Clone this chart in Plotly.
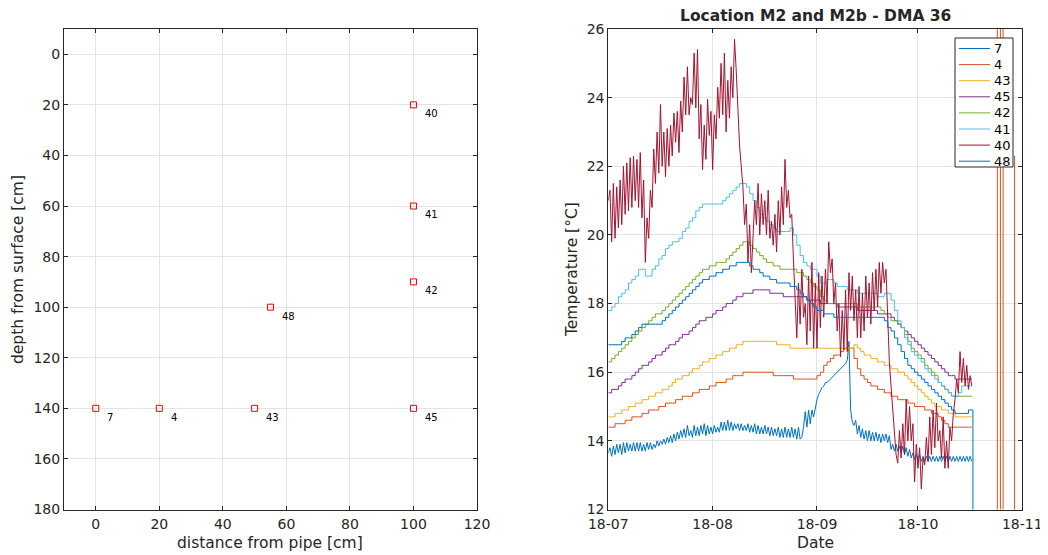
import pandas as pd
import plotly.graph_objects as go

# ---------------- left panel: sensor positions ----------------
sensor_labels = ["7", "4", "43", "45", "42", "41", "40", "48"]
sensor_x = [0, 20, 50, 100, 100, 100, 100, 55]
sensor_depth = [140, 140, 140, 140, 90, 60, 20, 100]

# ---------------- right panel: temperature series ----------------
series_names = ["7", "4", "43", "45", "42", "41", "40", "48"]
series_colors = ["#0072BD", "#D95319", "#EDB120", "#7E2F8E", "#77AC30", "#4DBEEE", "#A2142F", "#0072BD"]

# daily values (2018-07-01 .. 2018-10-17)
temp_41 = [17.8, 17.9, 18.0, 18.2, 18.3, 18.4, 18.6, 18.7, 18.8, 19.0,
           19.0, 18.8, 18.8, 19.0, 19.1, 19.3, 19.4, 19.6, 19.7, 19.8,
           19.8, 19.9, 20.1, 20.2, 20.4, 20.5, 20.7, 20.8, 20.9, 20.9,
           20.9, 20.9, 20.9, 20.9, 21.0, 21.1, 21.2, 21.3, 21.4, 21.5,
           21.5, 21.4, 21.2, 21.0, 20.8, 20.6, 20.5, 20.4, 20.3, 20.2,
           20.1, 20.1, 20.1, 20.1, 20.2, 20.0, 19.7, 19.4, 19.2, 19.1,
           19.0, 19.0, 18.8, 18.6, 18.6, 18.7, 18.7, 18.6, 18.5, 18.5,
           18.5, 18.4, 18.4, 18.4, 18.3, 18.3, 18.3, 18.3, 18.3, 18.3,
           18.2, 18.2, 18.3, 18.3, 18.1, 17.8, 17.5, 17.3, 17.0, 16.8,
           16.6, 16.5, 16.4, 16.3, 16.1, 16.0, 15.9, 15.8, 15.7, 15.6,
           15.5, 15.4, 15.3, 15.3, 15.4, 15.6, 15.6, 15.6, 15.6]
temp_42 = [16.3, 16.4, 16.5, 16.6, 16.7, 16.8, 16.9, 17.0, 17.1, 17.2,
           17.3, 17.4, 17.5, 17.6, 17.7, 17.7, 17.8, 17.9, 18.0, 18.1,
           18.2, 18.3, 18.4, 18.5, 18.6, 18.7, 18.8, 18.9, 19.0, 19.0,
           19.1, 19.1, 19.2, 19.2, 19.2, 19.3, 19.4, 19.5, 19.6, 19.7,
           19.8, 19.8, 19.7, 19.6, 19.5, 19.4, 19.3, 19.2, 19.2, 19.1,
           19.1, 19.0, 19.0, 19.0, 19.0, 19.0, 18.9, 18.9, 18.8, 18.7,
           18.6, 18.5, 18.4, 18.2, 18.1, 18.0, 18.0, 18.0, 18.0, 18.0,
           18.0, 18.0, 18.0, 18.0, 17.9, 17.9, 17.9, 17.9, 17.9, 17.9,
           17.9, 17.8, 17.7, 17.6, 17.5, 17.5, 17.4, 17.3, 17.1, 16.9,
           16.7, 16.6, 16.5, 16.4, 16.2, 16.1, 16.0, 15.9, 15.7, 15.6,
           15.5, 15.4, 15.3, 15.3, 15.3, 15.3, 15.3, 15.3, 15.3]
temp_48 = [16.8, 16.8, 16.8, 16.8, 16.9, 17.0, 17.0, 17.1, 17.2, 17.3,
           17.4, 17.4, 17.4, 17.4, 17.4, 17.4, 17.5, 17.6, 17.7, 17.8,
           17.9, 18.0, 18.1, 18.2, 18.3, 18.4, 18.5, 18.6, 18.7, 18.7,
           18.8, 18.8, 18.9, 18.9, 19.0, 19.0, 19.1, 19.1, 19.2, 19.2,
           19.2, 19.2, 19.1, 19.0, 19.0, 18.9, 18.8, 18.8, 18.7, 18.7,
           18.6, 18.6, 18.6, 18.6, 18.5, 18.5, 18.4, 18.3, 18.2, 18.1,
           18.0, 17.9, 17.8, 17.8, 17.7, 17.7, 17.7, 17.6, 17.6, 17.6,
           17.6, 17.6, 17.6, 17.6, 17.6, 17.6, 17.6, 17.6, 17.6, 17.6,
           17.6, 17.6, 17.5, 17.3, 17.2, 17.0, 16.8, 16.6, 16.4, 16.2,
           16.1, 16.0, 15.9, 15.8, 15.7, 15.6, 15.5, 15.4, 15.3, 15.2,
           15.1, 15.0, 14.9, 14.8, 14.8, 14.8, 14.8, 14.9, 14.9]
temp_48_end = [5.0]
temp_45 = [15.4, 15.5, 15.5, 15.6, 15.7, 15.8, 15.8, 15.9, 16.0, 16.1,
           16.2, 16.2, 16.3, 16.4, 16.5, 16.5, 16.6, 16.7, 16.8, 16.8,
           16.9, 17.0, 17.1, 17.1, 17.2, 17.3, 17.4, 17.5, 17.5, 17.6,
           17.6, 17.7, 17.8, 17.8, 17.9, 18.0, 18.0, 18.1, 18.2, 18.2,
           18.3, 18.3, 18.3, 18.4, 18.4, 18.4, 18.4, 18.4, 18.3, 18.3,
           18.3, 18.3, 18.2, 18.2, 18.2, 18.2, 18.2, 18.2, 18.2, 18.1,
           18.1, 18.1, 18.1, 18.0, 18.0, 18.0, 18.0, 18.0, 17.9, 17.9,
           17.9, 17.9, 17.9, 17.9, 17.8, 17.8, 17.8, 17.8, 17.8, 17.8,
           17.7, 17.7, 17.7, 17.7, 17.6, 17.5, 17.4, 17.3, 17.2, 17.1,
           17.0, 16.9, 16.8, 16.7, 16.6, 16.5, 16.4, 16.3, 16.2, 16.1,
           16.0, 15.9, 15.9, 15.8, 15.8, 15.8, 15.8, 15.8, 15.8]
temp_43 = [14.7, 14.7, 14.8, 14.8, 14.9, 14.9, 15.0, 15.0, 15.1, 15.1,
           15.2, 15.2, 15.3, 15.3, 15.4, 15.4, 15.5, 15.5, 15.6, 15.7,
           15.8, 15.8, 15.9, 15.9, 16.0, 16.1, 16.1, 16.2, 16.3, 16.3,
           16.4, 16.4, 16.5, 16.5, 16.6, 16.6, 16.7, 16.7, 16.8, 16.8,
           16.9, 16.9, 16.9, 16.9, 16.9, 16.9, 16.9, 16.9, 16.9, 16.9,
           16.8, 16.8, 16.8, 16.8, 16.7, 16.7, 16.7, 16.7, 16.7, 16.7,
           16.7, 16.7, 16.7, 16.7, 16.7, 16.7, 16.7, 16.7, 16.7, 16.7,
           16.7, 16.7, 16.7, 16.8, 16.7, 16.6, 16.5, 16.5, 16.4, 16.4,
           16.3, 16.3, 16.2, 16.2, 16.1, 16.1, 16.0, 16.0, 15.9, 15.8,
           15.7, 15.6, 15.5, 15.4, 15.3, 15.2, 15.1, 15.0, 15.0, 14.9,
           14.9, 14.8, 14.8, 14.7, 14.7, 14.7, 14.7, 14.7, 14.7]
temp_4 = [14.4, 14.4, 14.5, 14.5, 14.5, 14.6, 14.6, 14.7, 14.7, 14.7,
          14.8, 14.8, 14.9, 14.9, 14.9, 15.0, 15.0, 15.1, 15.1, 15.1,
          15.2, 15.2, 15.3, 15.3, 15.3, 15.4, 15.4, 15.5, 15.5, 15.5,
          15.6, 15.6, 15.7, 15.7, 15.7, 15.8, 15.8, 15.9, 15.9, 15.9,
          16.0, 16.0, 16.0, 16.0, 16.0, 16.0, 16.0, 16.0, 16.0, 15.9,
          15.9, 15.9, 15.9, 15.9, 15.9, 15.8, 15.8, 15.8, 15.8, 15.8,
          15.8, 15.8, 15.9, 16.0, 16.2, 16.3, 16.4, 16.5, 16.5, 16.6,
          16.7, 16.7, 16.7, 16.4, 16.1, 15.9, 15.8, 15.7, 15.6, 15.6,
          15.5, 15.5, 15.4, 15.4, 15.3, 15.3, 15.2, 15.2, 15.2, 15.1,
          15.1, 15.0, 15.0, 15.0, 14.9, 14.9, 14.8, 14.8, 14.7, 14.6,
          14.5, 14.4, 14.4, 14.4, 14.4, 14.4, 14.4, 14.4, 14.4]
# late spikes of sensor 4 (after the data gap)
spike_times_4 = ["2018-10-20 00:00", "2018-10-24 13:00", "2018-10-24 14:00", "2018-10-25 12:00",
                 "2018-10-26 07:00", "2018-10-27 00:00", "2018-10-29 16:00", "2018-10-29 17:00"]
spike_values_4 = [None, 5.0, 40.0, 5.0, 40.0, None, 22.3, 5.0]

# half-day values (trough / peak alternating) 2018-07-01 00:00 .. 2018-10-17 00:00
temp_7 = [13.65, 13.8, 13.55, 13.85, 13.6, 13.9, 13.65, 13.9, 13.6, 13.95,
          13.65, 13.95, 13.7, 13.9, 13.7, 13.95, 13.7, 13.95, 13.7, 13.95,
          13.7, 13.9, 13.7, 13.95, 13.75, 13.95, 13.75, 13.9, 13.8, 14.0,
          13.85, 14.0, 13.9, 14.05, 13.9, 14.1, 13.95, 14.15, 13.95, 14.2,
          14.0, 14.25, 14.05, 14.3, 14.1, 14.35, 14.1, 14.45, 14.15, 14.3,
          14.1, 14.45, 14.15, 14.4, 14.15, 14.45, 14.2, 14.5, 14.15, 14.45,
          14.2, 14.4, 14.2, 14.45, 14.25, 14.4, 14.25, 14.55, 14.3, 14.55,
          14.3, 14.6, 14.3, 14.55, 14.3, 14.5, 14.35, 14.5, 14.3, 14.5,
          14.3, 14.45, 14.3, 14.5, 14.25, 14.45, 14.25, 14.5, 14.2, 14.45,
          14.2, 14.4, 14.2, 14.45, 14.2, 14.4, 14.15, 14.4, 14.15, 14.35,
          14.15, 14.4, 14.1, 14.35, 14.1, 14.4, 14.1, 14.35, 14.1, 14.4,
          14.1, 14.35, 14.05, 14.4, 14.05, 14.1, 14.4, 14.85, 14.4, 14.9,
          14.5, 14.9, 14.7, 15.0, 15.2, 15.35, 15.45, 15.55, 15.6, 15.7,
          15.7, 15.75, 15.8, 15.85, 15.9, 15.95, 16.0, 16.05, 16.1, 16.15,
          16.2, 16.25, 16.35, 16.9, 14.9, 14.55, 14.45, 14.6, 14.2, 14.45,
          14.1, 14.35, 14.05, 14.3, 14.0, 14.3, 14.0, 14.25, 14.0, 14.25,
          14.0, 14.2, 13.95, 14.2, 14.0, 14.2, 13.95, 14.15, 13.75, 13.9,
          13.7, 13.9, 13.7, 13.85, 13.65, 13.85, 13.6, 13.8, 13.55, 13.75,
          13.5, 13.65, 13.45, 13.6, 13.45, 13.6, 13.4, 13.55, 13.4, 13.55,
          13.4, 13.55, 13.4, 13.55, 13.4, 13.55, 13.4, 13.55, 13.4, 13.55,
          13.4, 13.55, 13.4, 13.55, 13.4, 13.55, 13.4, 13.55, 13.4, 13.55,
          13.4, 13.55, 13.4, 13.55, 13.4, 13.55, 13.4]
temp_40 = [21.0, 21.3, 19.8, 21.5, 19.9, 21.4, 20.2, 21.6, 20.3, 22.0,
           20.6, 22.1, 20.7, 22.25, 20.8, 22.3, 21.0, 22.2, 20.8, 22.4,
           20.5, 21.6, 19.2, 20.5, 19.9, 21.3, 20.8, 22.5, 21.5, 23.0,
           21.8, 23.8, 22.0, 23.0, 21.7, 23.1, 22.0, 23.2, 22.3, 23.55,
           22.7, 23.6, 22.4, 23.9, 23.0, 24.6, 23.5, 24.9, 23.5, 24.0,
           23.8, 25.3, 23.7, 25.4, 22.8, 23.8, 21.9, 23.2, 22.2, 23.95,
           22.9, 23.6, 21.9, 23.5, 22.8, 24.3, 23.4, 25.0, 23.5, 25.3,
           23.0, 24.5, 23.4, 24.9, 24.0, 25.7, 24.8, 23.6, 22.6, 22.0,
           21.4, 20.3, 20.9, 19.2, 20.3, 18.9, 20.0, 21.0, 20.3, 21.5,
           20.0, 21.2, 20.3, 21.0, 20.0, 21.3, 19.9, 20.4, 19.7, 20.6,
           19.5, 21.0, 20.0, 21.4, 20.3, 22.2, 20.8, 21.3, 20.5, 20.6,
           19.3, 18.0, 17.0, 18.6, 17.4, 19.0, 17.6, 18.0, 16.8, 18.8,
           17.2, 19.2, 16.7, 18.6, 16.7, 18.9, 17.3, 18.8, 17.6, 19.0,
           18.0, 19.8, 18.9, 19.3, 18.0, 18.6, 17.2, 18.0, 16.45, 17.8,
           16.65, 18.4, 16.6, 18.9, 17.8, 18.8, 17.5, 18.4, 17.0, 18.5,
           17.0, 18.3, 17.2, 18.8, 17.6, 18.6, 17.4, 18.9, 17.8, 19.0,
           17.9, 19.2, 18.3, 19.2, 18.6, 19.0, 17.6, 16.3, 15.6, 15.0,
           14.3, 13.6, 13.35, 14.3, 13.5, 14.5, 13.6, 15.2, 14.0, 15.0,
           14.0, 14.5, 12.8, 13.9, 13.2, 13.8, 12.6, 13.5, 13.3, 14.1,
           13.4, 14.7, 13.6, 14.9, 13.8, 15.1, 14.0, 14.3, 13.5, 14.7,
           13.2, 14.0, 13.2, 14.4, 14.0, 14.8, 15.2, 15.8, 15.4, 16.6,
           15.7, 16.4, 15.6, 16.2, 15.5, 15.9, 15.6]

days = list(pd.date_range("2018-07-01", periods=len(temp_41), freq="D"))
half_days = list(pd.date_range("2018-07-01", periods=len(temp_40), freq="12h"))
end_48 = [pd.Timestamp("2018-10-17 08:00")]

month_ticks = ["2018-07-01", "2018-08-01", "2018-09-01", "2018-10-01", "2018-11-01"]
month_labels = ["18-07", "18-08", "18-09", "18-10", "18-11"]

FONT = "DejaVu Sans"
AX = "#262626"
GRID = "#e3e3e3"
# the page body keeps its default 8 px margin, so the figure sits 8 px in from the window corner;
# the figure covers the whole visible part of the window
OFF = 8
W, H = 1040, 547


def px(xp):
    return (xp - OFF) / W


def py(yp):
    return 1 - (yp - OFF) / H


fig = go.Figure()

fig.add_trace(go.Scatter(
    x=sensor_x, y=sensor_depth, mode="markers", showlegend=False,
    marker=dict(symbol="square-open", size=6, color="#ff0000", line=dict(width=1, color="#ff0000")),
    xaxis="x", yaxis="y", hoverinfo="skip"))

series = {
    "7": (half_days, temp_7, "linear"),
    "4": (days + [pd.Timestamp(t) for t in spike_times_4], temp_4 + spike_values_4, "hv"),
    "43": (days, temp_43, "hv"),
    "45": (days, temp_45, "hv"),
    "42": (days, temp_42, "hv"),
    "41": (days, temp_41, "hv"),
    "40": (half_days, temp_40, "linear"),
    "48": (days + end_48, temp_48 + temp_48_end, "hv"),
}
for name, color in zip(series_names, series_colors):
    xs, ys, shape = series[name]
    fig.add_trace(go.Scatter(
        x=xs, y=ys, mode="lines", name=name, line=dict(color=color, width=1, shape=shape),
        connectgaps=False, xaxis="x2", yaxis="y2", showlegend=False))

annotations = []
for lx, ly, lab in zip(sensor_x, sensor_depth, sensor_labels):
    annotations.append(dict(x=lx + 3, y=ly + 3.5, xref="x", yref="y", text=lab, showarrow=False,
                            xanchor="left", yanchor="middle", font=dict(family=FONT, size=10, color="#000000")))


def txt(text, x, y, size, angle=0, bold=False):
    return dict(x=px(x), y=py(y), xref="paper", yref="paper", showarrow=False,
                text=("<b>%s</b>" % text) if bold else text, textangle=angle,
                xanchor="center", yanchor="middle", font=dict(family=FONT, size=size, color=AX))


annotations += [
    txt("distance from pipe [cm]", 270, 543, 15.5),
    txt("depth from surface [cm]", 18, 270, 15.5, angle=-90),
    txt("Date", 815, 543, 15.5),
    txt("Temperature [°C]", 572, 270, 15.5, angle=-90),
    txt("Location M2 and M2b - DMA 36", 815, 16, 15.5, bold=True),
]

# legend drawn inside the right axes (box, line samples, labels)
shapes = [dict(type="rect", xref="paper", yref="paper", x0=px(955), x1=px(1013), y0=py(167), y1=py(38),
               line=dict(color=AX, width=1), fillcolor="white", layer="above")]
for i, (name, color) in enumerate(zip(series_names, series_colors)):
    yc = 48.5 + i * 16.1
    shapes.append(dict(type="line", xref="paper", yref="paper", x0=px(959), x1=px(990), y0=py(yc), y1=py(yc),
                       line=dict(color=color, width=1), layer="above"))
    annotations.append(dict(x=px(992), y=py(yc), xref="paper", yref="paper", text=name, showarrow=False,
                            xanchor="left", yanchor="middle", font=dict(family=FONT, size=13, color="#000000")))

common = dict(showgrid=True, gridcolor=GRID, gridwidth=1, ticks="inside", ticklen=4, tickcolor=AX,
              showline=True, linecolor=AX, linewidth=1, mirror="allticks", zeroline=False, automargin=False,
              ticklabeloverflow="allow", tickfont=dict(family=FONT, size=14, color=AX))

ydom = [py(509.5), py(29)]
fig.update_layout(
    width=W, height=H, margin=dict(l=0, r=0, t=0, b=0, pad=0),
    paper_bgcolor="white", plot_bgcolor="white",
    xaxis=dict(domain=[px(64), px(477)], range=[-10, 120], tickvals=[0, 20, 40, 60, 80, 100, 120],
               ticklabelstandoff=2, **common),
    yaxis=dict(domain=ydom, range=[180, -10], tickvals=[0, 20, 40, 60, 80, 100, 120, 140, 160, 180], **common),
    xaxis2=dict(domain=[px(608.3), px(1022.3)], type="date", range=["2018-07-01", "2018-11-01"],
                tickvals=month_ticks, ticktext=month_labels, anchor="y2", ticklabelstandoff=2, **common),
    yaxis2=dict(domain=ydom, range=[12, 26], tickvals=[12, 14, 16, 18, 20, 22, 24, 26], anchor="x2", **common),
    annotations=annotations,
    shapes=shapes,
    showlegend=False,
)

fig.write_html("out.html")
